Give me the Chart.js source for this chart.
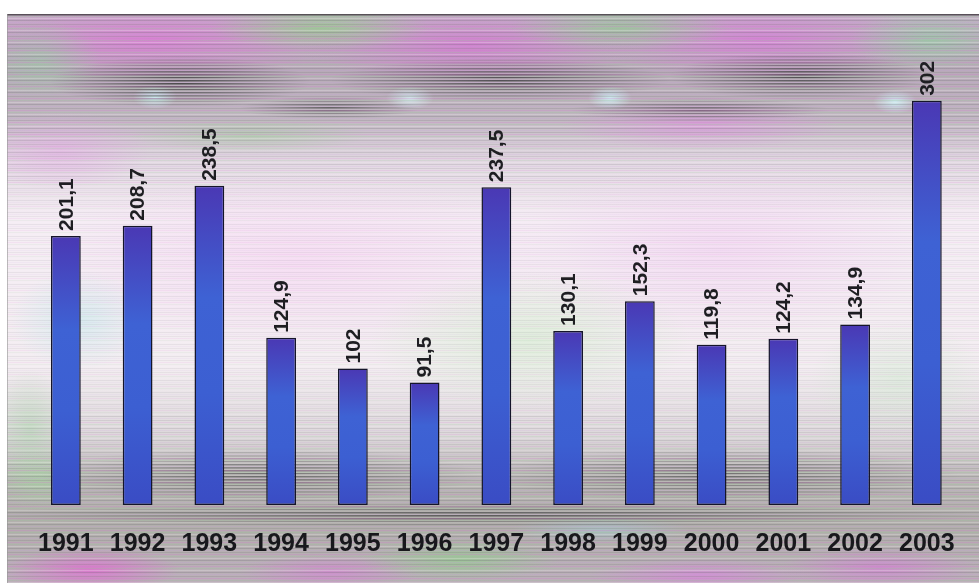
<!DOCTYPE html>
<html>
<head>
<meta charset="utf-8">
<script src="https://cdn.jsdelivr.net/npm/chart.js@4/dist/chart.umd.min.js"></script>
<style>
  html, body { margin: 0; padding: 0; background: #fff; }
  #wrap { width: 979px; height: 583px; position: relative; }
</style>
</head>
<body>
<div id="wrap"><canvas id="c" width="979" height="583"></canvas></div>
<script>
// Yearly values, 1991–2003
const years = ['1991','1992','1993','1994','1995','1996','1997','1998','1999','2000','2001','2002','2003'];
const values = [201.1, 208.7, 238.5, 124.9, 102, 91.5, 237.5, 130.1, 152.3, 119.8, 124.2, 134.9, 302];
const valueLabels = values.map(v => String(v).replace('.', ','));

// Soft elliptical colour patch
function blob(ctx, cx, cy, rx, ry, color) {
  ctx.save();
  ctx.translate(cx, cy);
  ctx.scale(rx / ry, 1);
  const g = ctx.createRadialGradient(0, 0, 0, 0, 0, ry);
  g.addColorStop(0, color);
  g.addColorStop(1, color.replace(/[\d.]+\)$/, '0)'));
  ctx.fillStyle = g;
  ctx.fillRect(-ry, -ry, ry * 2, ry * 2);
  ctx.restore();
}

// Clip to every other pixel row, so patches drawn inside look striped
function stripeClip(ctx, x0, y0, w, h) {
  ctx.beginPath();
  for (let y = y0; y < y0 + h; y += 3) ctx.rect(x0, y, w, 1.5);
  ctx.clip();
}

const backdrop = {
  id: 'backdrop',
  beforeDraw(chart) {
    const ctx = chart.ctx;
    const w = chart.width, h = chart.height;
    const x0 = 7, y0 = 14;
    ctx.save();
    ctx.fillStyle = '#fff';
    ctx.fillRect(0, 0, w, h);
    ctx.beginPath();
    ctx.rect(x0, y0, w - x0, h - y0);
    ctx.clip();

    const g = ctx.createLinearGradient(0, y0, 0, h);
    g.addColorStop(0.00, '#c2b0c4');
    g.addColorStop(0.10, '#b8aab8');
    g.addColorStop(0.18, '#c0b6c0');
    g.addColorStop(0.26, '#e2d8e2');
    g.addColorStop(0.36, '#f5edf4');
    g.addColorStop(0.62, '#f3edf1');
    g.addColorStop(0.74, '#ddd8db');
    g.addColorStop(0.82, '#bab7b5');
    g.addColorStop(0.90, '#b2afac');
    g.addColorStop(1.00, '#bcb0ba');
    ctx.fillStyle = g;
    ctx.fillRect(x0, y0, w - x0, h - y0);

    // upper band colour
    blob(ctx, 150, 40, 200, 40, 'rgba(222,120,216,0.75)');
    blob(ctx, 470, 45, 170, 38, 'rgba(216,115,214,0.7)');
    blob(ctx, 760, 40, 170, 40, 'rgba(218,120,218,0.7)');
    blob(ctx, 320, 28, 110, 22, 'rgba(150,205,140,0.7)');
    blob(ctx, 620, 28, 110, 22, 'rgba(150,200,150,0.7)');
    blob(ctx, 930, 40, 80, 30, 'rgba(150,205,165,0.65)');
    blob(ctx, 40, 60, 60, 40, 'rgba(155,205,165,0.6)');
    blob(ctx, 250, 135, 120, 18, 'rgba(165,205,160,0.5)');
    // pale highlights
    blob(ctx, 155, 97, 22, 12, 'rgba(205,235,240,0.95)');
    blob(ctx, 410, 98, 24, 12, 'rgba(210,230,235,0.95)');
    blob(ctx, 610, 98, 22, 12, 'rgba(205,235,240,0.95)');
    blob(ctx, 895, 102, 22, 12, 'rgba(205,235,240,0.95)');
    // middle tint
    blob(ctx, 700, 125, 140, 25, 'rgba(225,140,225,0.55)');
    blob(ctx, 60, 150, 90, 40, 'rgba(230,170,230,0.55)');
    blob(ctx, 300, 260, 260, 90, 'rgba(246,210,242,0.6)');
    blob(ctx, 720, 250, 220, 90, 'rgba(242,208,242,0.6)');
    blob(ctx, 530, 340, 160, 70, 'rgba(210,236,205,0.6)');
    blob(ctx, 80, 320, 70, 50, 'rgba(198,232,236,0.6)');
    blob(ctx, 900, 380, 90, 60, 'rgba(208,234,208,0.5)');
    blob(ctx, 30, 430, 40, 60, 'rgba(175,215,175,0.55)');
    // lower band colour
    blob(ctx, 90, 570, 90, 22, 'rgba(228,100,212,0.7)');
    blob(ctx, 330, 572, 90, 18, 'rgba(218,120,216,0.55)');
    blob(ctx, 460, 560, 100, 22, 'rgba(145,205,140,0.65)');
    blob(ctx, 700, 575, 110, 16, 'rgba(218,130,222,0.65)');
    blob(ctx, 880, 568, 100, 20, 'rgba(215,120,216,0.6)');
    blob(ctx, 40, 480, 50, 30, 'rgba(165,210,160,0.6)');
    blob(ctx, 600, 530, 90, 14, 'rgba(165,205,215,0.5)');

    // darker striped streaks
    ctx.save();
    stripeClip(ctx, x0, y0, w - x0, h - y0);
    blob(ctx, 180, 82, 130, 26, 'rgba(60,60,60,0.9)');
    blob(ctx, 500, 80, 170, 22, 'rgba(60,60,60,0.85)');
    blob(ctx, 800, 76, 130, 24, 'rgba(60,60,60,0.85)');
    blob(ctx, 330, 108, 90, 12, 'rgba(70,70,70,0.75)');
    blob(ctx, 700, 110, 130, 12, 'rgba(70,70,70,0.7)');
    blob(ctx, 260, 475, 220, 28, 'rgba(70,70,70,0.65)');
    blob(ctx, 720, 475, 240, 28, 'rgba(70,70,70,0.65)');
    blob(ctx, 480, 515, 520, 12, 'rgba(60,60,60,0.75)');
    ctx.restore();

    // horizontal streak texture, stronger in the top and bottom bands
    const tones = ['120,120,120', '215,110,210', '140,200,140', '255,255,255', '90,90,100', '200,160,225'];
    for (let y = y0; y < h; y += 2) {
      const t = (y - y0) / (h - y0);
      let k = 0.4;
      if (t < 0.22 || t > 0.78) k = 1;
      else if (t < 0.3 || t > 0.7) k = 0.7;
      ctx.fillStyle = 'rgba(' + tones[(y >> 1) % tones.length] + ',' + (0.22 * k).toFixed(3) + ')';
      ctx.fillRect(x0, y, w - x0, 1);
    }

    // frame edges
    ctx.fillStyle = 'rgba(60,60,60,0.8)';
    ctx.fillRect(x0, y0, w - x0, 1.5);
    ctx.fillStyle = 'rgba(150,150,150,0.6)';
    ctx.fillRect(x0, y0, 1, h - y0);
    ctx.restore();
  }
};

// Rotated value captions above each bar
const barCaptions = {
  id: 'barCaptions',
  afterDatasetsDraw(chart) {
    const ctx = chart.ctx;
    const meta = chart.getDatasetMeta(0);
    ctx.save();
    ctx.fillStyle = '#1e1e22';
    ctx.font = 'bold 21px "Liberation Sans", Arial, sans-serif';
    ctx.textAlign = 'left';
    ctx.textBaseline = 'middle';
    meta.data.forEach((bar, i) => {
      ctx.save();
      ctx.translate(bar.x + 1, bar.y - 5);
      ctx.rotate(-Math.PI / 2);
      ctx.fillText(valueLabels[i], 0, 0);
      ctx.restore();
    });
    ctx.restore();
  }
};

function barFill(context) {
  const chart = context.chart;
  const y = chart.scales && chart.scales.y;
  if (!chart.chartArea || !y || context.dataIndex === undefined) return '#3d5ccc';
  const top = y.getPixelForValue(values[context.dataIndex]);
  const bottom = y.getPixelForValue(0);
  const g = chart.ctx.createLinearGradient(0, top, 0, bottom);
  g.addColorStop(0, '#4a38b4');
  g.addColorStop(0.35, '#3e62d4');
  g.addColorStop(0.65, '#3c5fd2');
  g.addColorStop(1, '#3a4cc4');
  return g;
}

new Chart(document.getElementById('c'), {
  type: 'bar',
  data: {
    labels: years,
    datasets: [{
      data: values,
      backgroundColor: barFill,
      borderColor: '#15152a',
      borderWidth: 1.5,
      borderSkipped: false,
      categoryPercentage: 1,
      barPercentage: 0.415
    }]
  },
  options: {
    responsive: false,
    animation: false,
    layout: { padding: { left: 30, right: 9, top: 50, bottom: 0 } },
    plugins: { legend: { display: false }, tooltip: { enabled: false } },
    scales: {
      y: { display: false, min: 0, max: 340 },
      x: {
        grid: { display: false, drawTicks: false },
        border: { display: false },
        ticks: {
          color: '#18181c',
          padding: 24,
          maxRotation: 0,
          autoSkip: false,
          font: { family: '"Liberation Sans", Arial, sans-serif', size: 25, weight: 'bold' }
        }
      }
    }
  },
  plugins: [backdrop, barCaptions]
});
</script>
</body>
</html>
